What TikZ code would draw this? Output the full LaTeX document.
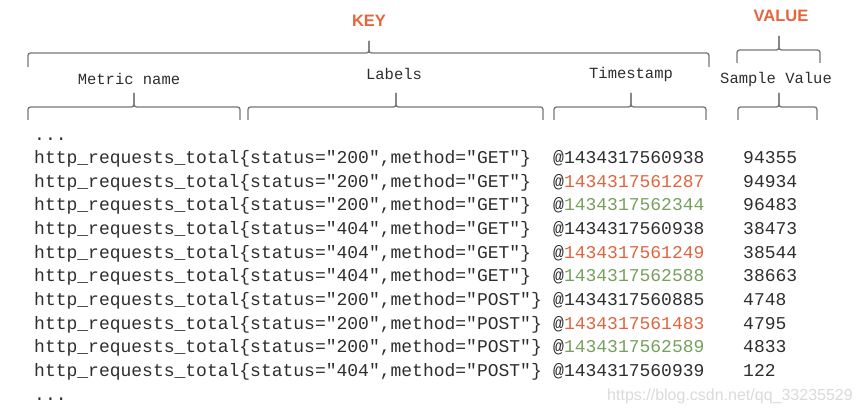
\documentclass[tikz,border=0pt]{standalone}
\usepackage{fontspec}
\setmainfont{Liberation Sans}
\newfontfamily\codefont{Liberation Mono}
\definecolor{keyorange}{HTML}{E8633B}
\definecolor{tsorange}{HTML}{E2643F}
\definecolor{tsgreen}{HTML}{76A05C}
\definecolor{txt}{HTML}{2E2E2E}
\definecolor{bracegray}{HTML}{767676}
\definecolor{wmgray}{HTML}{DADADA}
\tikzset{
  bracestyle/.style={draw=bracegray, line width=1.3pt, rounded corners=2.5pt},
  title/.style={font=\fontsize{16.5}{18}\selectfont\bfseries, text=keyorange, inner sep=0pt},
  head/.style={font=\codefont\fontsize{15.5}{17}\selectfont, text=txt, inner sep=0pt},
  code/.style={font=\codefont\fontsize{18}{20}\selectfont, text=txt, inner sep=0pt, anchor=mid west},
}
\newcommand\hbrace[6]{%
  \draw[bracestyle] (#1,#5) -- (#1,#4) -- (#3,#4) -- (#3,#6);
  \draw[bracestyle] (#2,#5) -- (#2,#4) -- (#3,#4) -- (#3,#6);
}
\newcommand\datarow[7]{%
  \node[code] (n#1) at (34,#2) {http\_requests\_total\{status="#3",method="#4"\}};
  \node[code] (t#1) at (553,#2) {@\textcolor{#5}{#6}};
  \node[code] (v#1) at (743,#2) {#7};
}
\begin{document}
\begin{tikzpicture}[x=1pt,y=-1pt]
\useasboundingbox (0,0) rectangle (861,414);
% titles
\node[title] (key) at (369,21) {KEY};
\node[title] (value) at (781,16) {VALUE};
% top braces
\hbrace{28}{709}{369}{53}{67}{41}
\hbrace{737}{820}{779}{50}{63}{36}
% headers
\node[head] (hname) at (129,79) {Metric name};
\node[head] (hlabels) at (394,74) {Labels};
\node[head] (hts) at (631,74) {Timestamp};
\node[head] (hval) at (776,79) {Sample Value};
% lower braces
\hbrace{28}{240}{134}{107}{120}{93}
\hbrace{248}{543}{396}{107}{120}{93}
\hbrace{554}{706}{631}{107}{120}{93}
\hbrace{738}{817}{779}{107}{120}{93}
% rows
\node[code] (dtop) at (34,138.3) {...};
\datarow{1}{161.0}{200}{GET}{txt}{1434317560938}{94355}
\datarow{2}{184.7}{200}{GET}{tsorange}{1434317561287}{94934}
\datarow{3}{208.3}{200}{GET}{tsgreen}{1434317562344}{96483}
\datarow{4}{232.0}{404}{GET}{txt}{1434317560938}{38473}
\datarow{5}{255.7}{404}{GET}{tsorange}{1434317561249}{38544}
\datarow{6}{279.3}{404}{GET}{tsgreen}{1434317562588}{38663}
\datarow{7}{303.0}{200}{POST}{txt}{1434317560885}{4748}
\datarow{8}{326.7}{200}{POST}{tsorange}{1434317561483}{4795}
\datarow{9}{350.3}{200}{POST}{tsgreen}{1434317562589}{4833}
\datarow{10}{374.0}{404}{POST}{txt}{1434317560939}{122}
\node[code] (dbot) at (34,397.7) {...};
% watermark
\node[font=\fontsize{16}{18}\selectfont, text=wmgray, inner sep=0pt] (wm) at (730,396) {https://blog.csdn.net/qq\_33235529};
\end{tikzpicture}
\end{document}
